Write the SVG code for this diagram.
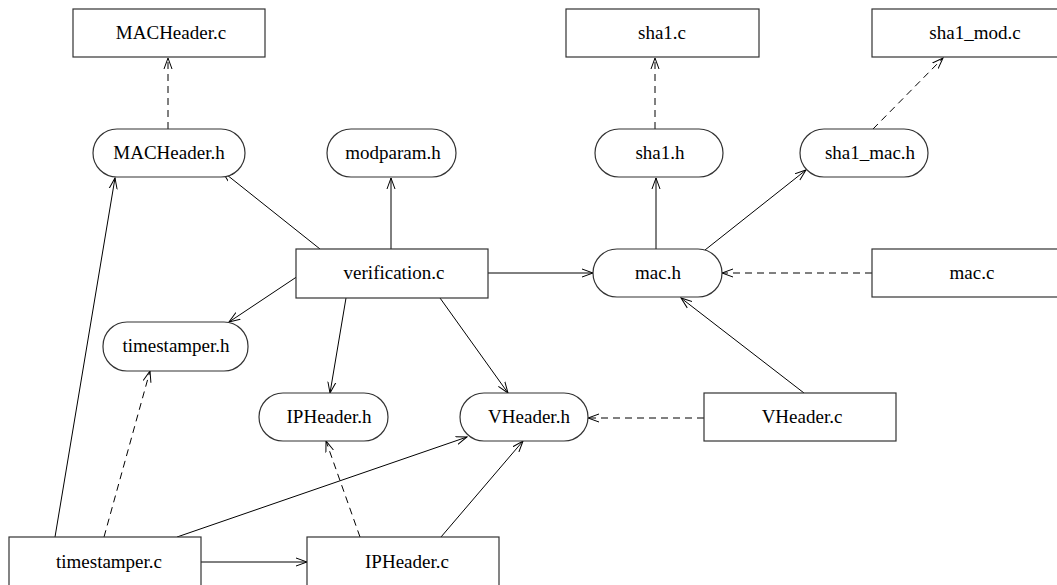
<svg xmlns="http://www.w3.org/2000/svg" width="1057" height="585" viewBox="0 0 1057 585">
<style>
.n rect{fill:#fff;stroke:#333;stroke-width:1.2}
.n text{font-family:"Liberation Serif","Times New Roman",serif;font-size:19px;text-anchor:middle;fill:#000}
.e line{stroke:#000;stroke-width:1;fill:none;marker-end:url(#ah)}
.e .d{stroke-dasharray:7 5}
</style>
<defs>
<marker id="ah" viewBox="0 0 12 10" refX="11" refY="5" markerWidth="12" markerHeight="10" markerUnits="userSpaceOnUse" orient="auto">
<path d="M0,1 L11,5 L0,9" fill="none" stroke="#000" stroke-width="1"/>
</marker>
</defs>
<rect width="1057" height="585" fill="#fff"/>
<g class="e">
<line class="d" x1="168" y1="129" x2="168" y2="58"/>
<line class="d" x1="655" y1="129" x2="655" y2="58"/>
<line class="d" x1="873" y1="129" x2="943" y2="58"/>
<line x1="320" y1="249" x2="222" y2="171"/>
<line x1="391" y1="249" x2="391" y2="178"/>
<line x1="298" y1="276" x2="229" y2="322"/>
<line x1="488" y1="273" x2="593" y2="273"/>
<line x1="346" y1="298" x2="330" y2="393"/>
<line x1="440" y1="298" x2="508" y2="393"/>
<line x1="656" y1="249" x2="656" y2="178"/>
<line x1="705" y1="250" x2="806" y2="170"/>
<line class="d" x1="872" y1="273" x2="722" y2="273"/>
<line x1="804" y1="393" x2="681" y2="298"/>
<line class="d" x1="704" y1="418" x2="588" y2="418"/>
<line x1="55" y1="537" x2="115" y2="178"/>
<line class="d" x1="104" y1="537" x2="150" y2="371"/>
<line x1="177" y1="537" x2="467" y2="437"/>
<line x1="201" y1="562" x2="307" y2="562"/>
<line class="d" x1="360" y1="537" x2="326" y2="441"/>
<line x1="441" y1="537" x2="523" y2="441"/>
</g>
<g id="MACHeader_c" class="n"><rect x="73" y="9" width="192" height="48"/><text x="171" y="39">MACHeader.c</text></g>
<g id="sha1_c" class="n"><rect x="566" y="9" width="193" height="48"/><text x="662" y="39">sha1.c</text></g>
<g id="sha1_mod_c" class="n"><rect x="872" y="9" width="206" height="48"/><text x="975" y="39">sha1_mod.c</text></g>
<g id="MACHeader_h" class="n"><rect x="93" y="129" width="152" height="48" rx="24"/><text x="169" y="159">MACHeader.h</text></g>
<g id="modparam_h" class="n"><rect x="327" y="129" width="129" height="48" rx="24"/><text x="393" y="159">modparam.h</text></g>
<g id="sha1_h" class="n"><rect x="595" y="129" width="128" height="48" rx="24"/><text x="660" y="159">sha1.h</text></g>
<g id="sha1_mac_h" class="n"><rect x="800" y="129" width="128" height="48" rx="24"/><text x="870" y="159">sha1_mac.h</text></g>
<g id="verification_c" class="n"><rect x="296" y="249" width="192" height="49"/><text x="394" y="279">verification.c</text></g>
<g id="mac_h" class="n"><rect x="593" y="249" width="129" height="48" rx="24"/><text x="658" y="279">mac.h</text></g>
<g id="mac_c" class="n"><rect x="872" y="249" width="206" height="48"/><text x="972" y="279">mac.c</text></g>
<g id="timestamper_h" class="n"><rect x="103" y="322" width="145" height="49" rx="24"/><text x="176" y="352">timestamper.h</text></g>
<g id="IPHeader_h" class="n"><rect x="259" y="393" width="129" height="48" rx="24"/><text x="329" y="423">IPHeader.h</text></g>
<g id="VHeader_h" class="n"><rect x="460" y="393" width="128" height="48" rx="24"/><text x="529" y="423">VHeader.h</text></g>
<g id="VHeader_c" class="n"><rect x="704" y="393" width="192" height="48"/><text x="802" y="423">VHeader.c</text></g>
<g id="timestamper_c" class="n"><rect x="9" y="537" width="192" height="52"/><text x="109" y="568">timestamper.c</text></g>
<g id="IPHeader_c" class="n"><rect x="307" y="537" width="192" height="52"/><text x="407" y="568">IPHeader.c</text></g>
</svg>
